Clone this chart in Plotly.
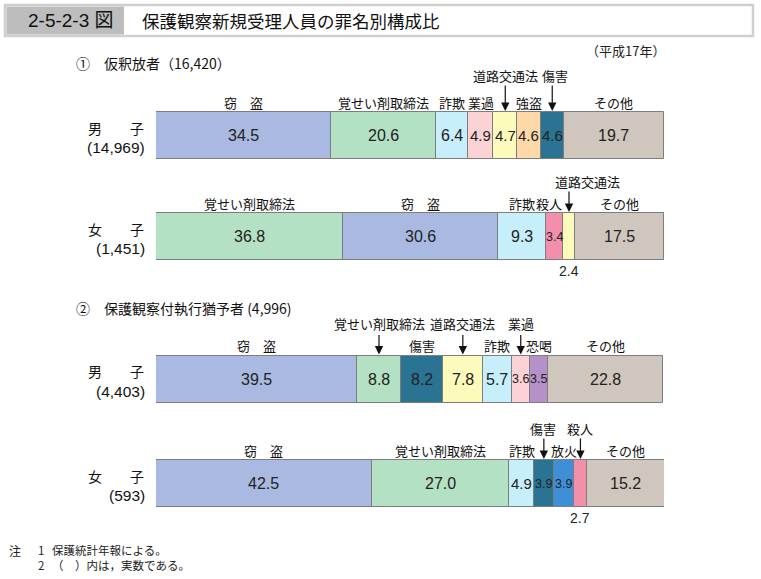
import plotly.graph_objects as go

W, H = 761, 579

# ---------------- data ----------------
section_titles = ["①　仮釈放者（16,420）", "②　保護観察付執行猶予者 (4,996)"]
row_names = ["男　　子", "女　　子", "男　　子", "女　　子"]
row_counts = ["(14,969)", "(1,451)", "(4,403)", "(593)"]

crimes_1m = ["窃盗", "覚せい剤取締法", "詐欺", "業過", "道路交通法", "強盗", "傷害", "その他"]
values_1m = [34.5, 20.6, 6.4, 4.9, 4.7, 4.6, 4.6, 19.7]

crimes_1f = ["覚せい剤取締法", "窃盗", "詐欺", "殺人", "道路交通法", "その他"]
values_1f = [36.8, 30.6, 9.3, 3.4, 2.4, 17.5]

crimes_2m = ["窃盗", "覚せい剤取締法", "傷害", "道路交通法", "詐欺", "業過", "恐喝", "その他"]
values_2m = [39.5, 8.8, 8.2, 7.8, 5.7, 3.6, 3.5, 22.8]

crimes_2f = ["窃盗", "覚せい剤取締法", "詐欺", "傷害", "放火", "殺人", "その他"]
values_2f = [42.5, 27.0, 4.9, 3.9, 3.9, 2.7, 15.2]

ROWS = [(crimes_1m, values_1m), (crimes_1f, values_1f), (crimes_2m, values_2m), (crimes_2f, values_2f)]

notes_num = ["1", "2"]
notes_text = ["保護統計年報による。", "（　）内は，実数である。"]

# ---------------- styles / layout ----------------
COLORS = {
    "窃盗": "#aab9e1",
    "覚せい剤取締法": "#b4e1c3",
    "詐欺": "#c7eefb",
    "業過": "#fcd3d5",
    "道路交通法": "#fdfbbb",
    "強盗": "#fdd8a8",
    "傷害": "#2a7392",
    "その他": "#cfc6be",
    "殺人": "#f28fab",
    "恐喝": "#b690c8",
    "放火": "#3f8fd6",
}
DISPLAY = {"窃盗": "窃　盗"}

ROW_Y = [135.5, 236.5, 379, 483.5]     # pixel centre of each bar
BAR_H = 47
X0_PX, X1_PX = 156, 664
PX2DATA = 100.0 / (X1_PX - X0_PX)

STYLE = [
    ["top", "top", "top", "top", "arrow", "top", "arrow", "top"],
    ["top", "top", "top", "top", "arrow", "top"],
    ["top", "arrow", "top", "arrow", "top", "arrow", "top", "top"],
    ["top", "top", "top", "arrow", "top", "arrow", "top"],
]
VALUE_BELOW = {(1, 4), (3, 5)}
LABEL_DX = {(0, 6): 3, (1, 4): 18, (1, 3): -5, (3, 3): -1}
ARROW_LEN = [27, 22, 21, 22]
ARROW_TXT_DY = [37, 32, 32, 32]
TOP_TXT_DY = 10

JP = "Noto Sans CJK JP, sans-serif"
NUM = "Liberation Sans, Arial, sans-serif"

fig = go.Figure()
ann = []

for r, (crimes, vals) in enumerate(ROWS):
    cy = ROW_Y[r]
    top = cy - BAR_H / 2
    bot = cy + BAR_H / 2
    base = 0.0
    for i, (c, v) in enumerate(zip(crimes, vals)):
        fig.add_trace(go.Bar(
            y=[cy], x=[v], base=[base], orientation="h", width=[BAR_H],
            marker=dict(color=COLORS[c], line=dict(color="#7d7d7d", width=1)),
            hoverinfo="skip",
        ))
        cx = base + v / 2
        seg_px = v / PX2DATA
        if (r, i) in VALUE_BELOW:
            ann.append(dict(x=cx, y=bot + 11, text=f"{v:.1f}", showarrow=False,
                            font=dict(family=NUM, size=14, color="#222")))
        else:
            if seg_px > 26:
                size = 16
            elif seg_px > 21:
                size = 15
            else:
                size = 12.5
            ann.append(dict(x=cx, y=cy, text=f"{v:.1f}", showarrow=False,
                            font=dict(family=NUM, size=size, color="#222")))
        dx = LABEL_DX.get((r, i), 0) * PX2DATA
        name = DISPLAY.get(c, c)
        if STYLE[r][i] == "arrow":
            ann.append(dict(x=cx + dx, y=top - ARROW_TXT_DY[r], text=name, showarrow=False,
                            font=dict(family=JP, size=13, color="#111")))
            ann.append(dict(x=cx, y=top - 1, text="", showarrow=True, ax=0, ay=-ARROW_LEN[r],
                            arrowhead=2, arrowsize=1.4, arrowwidth=1.2, arrowcolor="#111",
                            standoff=0))
        else:
            ann.append(dict(x=cx + dx, y=top - TOP_TXT_DY, text=name, showarrow=False,
                            font=dict(family=JP, size=13, color="#111")))
        base += v

    ann.append(dict(x=146 / W, xref="paper", y=cy - 8, text=row_names[r], showarrow=False,
                    xanchor="right", font=dict(family=JP, size=14, color="#111")))
    ann.append(dict(x=147 / W, xref="paper", y=cy + 12, text=row_counts[r], showarrow=False,
                    xanchor="right", font=dict(family=NUM, size=15.5, color="#111")))

for t, y in zip(section_titles, [63, 308]):
    ann.append(dict(x=74 / W, xref="paper", y=y, text=t, showarrow=False, xanchor="left",
                    font=dict(family=JP, size=14, color="#111")))

ann.append(dict(x=667 / W, xref="paper", y=50, text="（平成17年）", showarrow=False, xanchor="right",
                font=dict(family=JP, size=13, color="#222")))

# footnotes
ann.append(dict(x=7 / W, xref="paper", y=550, text="注", showarrow=False, xanchor="left",
                font=dict(family=JP, size=12, color="#222")))
ann.append(dict(x=36 / W, xref="paper", y=557, text="<br>".join(notes_num), showarrow=False,
                xanchor="left", align="left", font=dict(family=JP, size=11.5, color="#222")))
ann.append(dict(x=50 / W, xref="paper", y=557, text="<br>".join(notes_text), showarrow=False,
                xanchor="left", align="left", font=dict(family=JP, size=11.5, color="#222")))

# title
ann.append(dict(x=26 / W, xref="paper", y=20, text="2-5-2-3 図", showarrow=False, xanchor="left",
                font=dict(family="Liberation Sans Narrow, Liberation Sans, Noto Sans CJK JP", size=19, color="#111")))
ann.append(dict(x=140 / W, xref="paper", y=20, text="保護観察新規受理人員の罪名別構成比", showarrow=False,
                xanchor="left", font=dict(family=JP, size=17.5, color="#111")))

for a in ann:
    a.setdefault("xref", "x")
    a.setdefault("yref", "y")

shapes = [
    dict(type="rect", xref="paper", yref="paper", x0=5 / W, x1=753 / W, y0=1 - 36 / H, y1=1 - 5 / H,
         fillcolor="white", line=dict(color="#cfcfcf", width=2.5), layer="below"),
    dict(type="rect", xref="paper", yref="paper", x0=6.5 / W, x1=124 / W, y0=1 - 34.5 / H, y1=1 - 6.5 / H,
         fillcolor="#bdbdbd", line=dict(width=0), layer="below"),
]

fig.update_layout(
    width=W, height=H, margin=dict(l=0, r=0, t=0, b=0),
    paper_bgcolor="white", plot_bgcolor="rgba(0,0,0,0)",
    barmode="overlay", showlegend=False, bargap=0,
    xaxis=dict(range=[0, 100], domain=[X0_PX / W, X1_PX / W], visible=False, fixedrange=True),
    yaxis=dict(range=[H, 0], domain=[0, 1], visible=False, fixedrange=True),
    annotations=ann, shapes=shapes,
)

fig.write_html("out.html")
